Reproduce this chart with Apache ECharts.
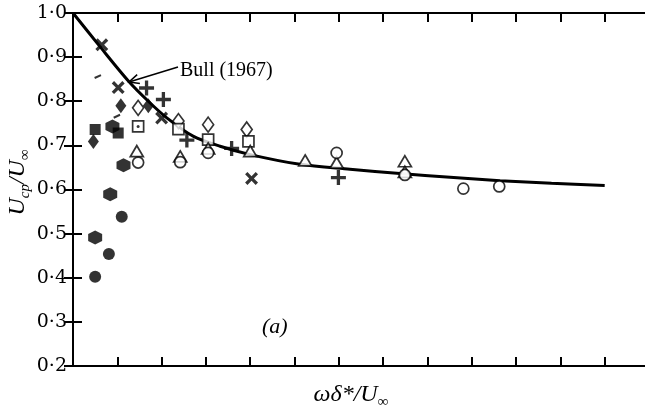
<!DOCTYPE html>
<html><head><meta charset="utf-8">
<script src="https://cdn.jsdelivr.net/npm/echarts@6/dist/echarts.min.js"></script>
<style>html,body{margin:0;padding:0;background:#fff}#c{width:645px;height:413px}</style>
</head><body><div id="c"></div>
<script>
// y tick labels
const yTickLabels = ['0·2','0·3','0·4','0·5','0·6','0·7','0·8','0·9','1·0'];
// Bull (1967) curve (x in tick units)
const bullX = [0, 0.6, 1.25, 1.7, 2.11, 2.71, 3.32, 4.0, 5.12, 6.25, 7.38, 8.51, 9.64, 10.8, 12.0];
const bullY = [1.0, 0.925, 0.846, 0.80, 0.763, 0.721, 0.698, 0.679, 0.657, 0.646, 0.636, 0.628, 0.620, 0.614, 0.609];
// data markers
const filledCircle  = [[0.50,0.402],[0.81,0.454],[1.10,0.538]];
const filledHexagon = [[0.50,0.491],[0.84,0.589],[1.14,0.655],[0.89,0.743]];
const filledSquare  = [[0.50,0.736],[1.02,0.728]];
const filledDiamond = [[0.46,0.709],[1.08,0.790],[1.70,0.790]];
const openDiamond   = [[1.47,0.785],[2.38,0.755],[3.05,0.747],[3.92,0.736]];
const openSquare    = [[1.47,0.743],[2.38,0.737],[3.05,0.713],[3.96,0.709]];
const dottedSquare  = [[1.47,0.743]];
const openTriangle  = [[1.44,0.687],[2.42,0.675],[3.05,0.693],[4.0,0.687],[5.24,0.666],[5.95,0.661],[7.49,0.664],[7.49,0.640]];
const openCircle    = [[1.47,0.661],[2.42,0.662],[3.05,0.683],[5.95,0.683],[7.49,0.633],[8.81,0.602],[9.62,0.607]];
const plusPts       = [[1.66,0.830],[2.04,0.804],[2.57,0.712],[3.58,0.693],[5.99,0.627]];
const crossPts      = [[0.65,0.928],[1.02,0.831],[2.0,0.762],[4.03,0.625]];
const dashPts       = [[0.56,0.856],[0.99,0.766]];

const HEX = 'path://M5,0L9.33,2.5L9.33,7.5L5,10L0.67,7.5L0.67,2.5Z';
const PLUS = 'path://M3.9,0H6.1V3.9H10V6.1H6.1V10H3.9V6.1H0V3.9H3.9Z';
const DASH = 'path://M0,0H10V2H0Z';

function sc(data, symbol, size, filled, extra) {
  return Object.assign({
    type: 'scatter', data: data, symbol: symbol, symbolSize: size,
    itemStyle: filled ? {color: '#000'} : {color: '#fff', borderColor: '#000', borderWidth: 1.7},
    z: 5, silent: true
  }, extra || {});
}

const chart = echarts.init(document.getElementById('c'), null, {renderer: 'canvas'});
const axisLineStyle = {show: true, lineStyle: {color: '#000', width: 2}};
const tickStyle = {show: true, inside: true, length: 9, lineStyle: {color: '#000', width: 2}};
chart.setOption({
  animation: false,
  backgroundColor: '#fff',
  grid: {left: 73, top: 13, right: -4, bottom: 47, containLabel: false, outerBoundsMode: 'none'},
  xAxis: [{
    type: 'value', min: 0, max: 13, interval: 1, position: 'bottom',
    axisLine: axisLineStyle, axisTick: tickStyle, axisLabel: {show: false}, splitLine: {show: false},
    name: '{a|ωδ*/U}{s|∞}', nameLocation: 'middle', nameGap: 14,
    nameTextStyle: {padding: [0, 20, 0, 0], rich: {
      a: {fontFamily: 'Liberation Serif', fontStyle: 'italic', fontSize: 24, color: '#000', lineHeight: 30},
      s: {fontFamily: 'Liberation Serif', fontSize: 15, color: '#000', lineHeight: 15, verticalAlign: 'bottom'}
    }}
  }, {
    type: 'value', min: 0, max: 13, interval: 1, position: 'top',
    axisLine: axisLineStyle, axisTick: tickStyle, axisLabel: {show: false}, splitLine: {show: false}
  }],
  yAxis: [{
    type: 'value', min: 0.2, max: 1.0, interval: 0.1, position: 'left',
    axisLine: axisLineStyle, axisTick: tickStyle, splitLine: {show: false},
    axisLabel: {margin: 6, color: '#000', fontFamily: 'DejaVu Serif', fontSize: 19,
      formatter: v => yTickLabels[Math.round((v - 0.2) / 0.1)]},
    name: '{a|U}{s|cp}{a|/U}{s|∞}', nameLocation: 'middle', nameGap: 40, nameMoveOverlap: false,
    nameTextStyle: {padding: [0, 0, 0, 14], rich: {
      a: {fontFamily: 'Liberation Serif', fontStyle: 'italic', fontSize: 24, color: '#000', lineHeight: 30},
      s: {fontFamily: 'Liberation Serif', fontStyle: 'italic', fontSize: 15, color: '#000', lineHeight: 15, verticalAlign: 'bottom'}
    }}
  }, {
    type: 'value', min: 0.2, max: 1.0, interval: 0.1, position: 'right',
    axisLine: axisLineStyle, axisTick: tickStyle, axisLabel: {show: false}, splitLine: {show: false}
  }],
  series: [
    {type: 'line', data: bullX.map((x, i) => [x, bullY[i]]), showSymbol: false, smooth: 0.3,
     lineStyle: {color: '#000', width: 3}, z: 3, silent: true},
    sc(filledCircle, 'circle', 12, true),
    sc(filledHexagon, HEX, 14, true),
    sc(filledSquare, 'rect', 11, true),
    sc(filledDiamond, 'diamond', [11, 15], true),
    sc(openDiamond, 'diamond', [11, 15], false),
    sc(openSquare, 'rect', 11, false),
    sc(dottedSquare, 'circle', 3, true, {z: 6}),
    sc(openTriangle, 'triangle', [13, 11], false),
    sc(openCircle, 'circle', 11, false),
    sc(plusPts, PLUS, 15, true),
    sc(crossPts, PLUS, 15, true, {symbolRotate: 45}),
    sc(dashPts, DASH, [7, 2], true, {symbolRotate: 25})
  ]
});

// Annotation: "Bull (1967)" with arrow to the curve
(function () {
  const tip = [129, 82], start = [178, 67];
  const dx = start[0] - tip[0], dy = start[1] - tip[1];
  const L = Math.hypot(dx, dy), ux = dx / L, uy = dy / L;
  const a = 25 * Math.PI / 180, h = 11;
  const r1 = [tip[0] + h * (ux * Math.cos(a) - uy * Math.sin(a)), tip[1] + h * (ux * Math.sin(a) + uy * Math.cos(a))];
  const r2 = [tip[0] + h * (ux * Math.cos(-a) - uy * Math.sin(-a)), tip[1] + h * (ux * Math.sin(-a) + uy * Math.cos(-a))];
  chart.setOption({graphic: [
    {type: 'polyline', shape: {points: [start, tip]}, style: {stroke: '#000', lineWidth: 1.5, fill: null}, z: 10},
    {type: 'polyline', shape: {points: [r1, tip, r2]}, style: {stroke: '#000', lineWidth: 1.5, fill: null}, z: 10},
    {type: 'text', left: 180, top: 61, style: {text: 'Bull (1967)', font: '20px "Liberation Serif"', fill: '#000'}, z: 10},
    {type: 'text', left: 262, top: 316, style: {text: '(a)', font: 'italic 22px "Liberation Serif"', fill: '#000'}, z: 10}
  ]});
})();
</script></body></html>
